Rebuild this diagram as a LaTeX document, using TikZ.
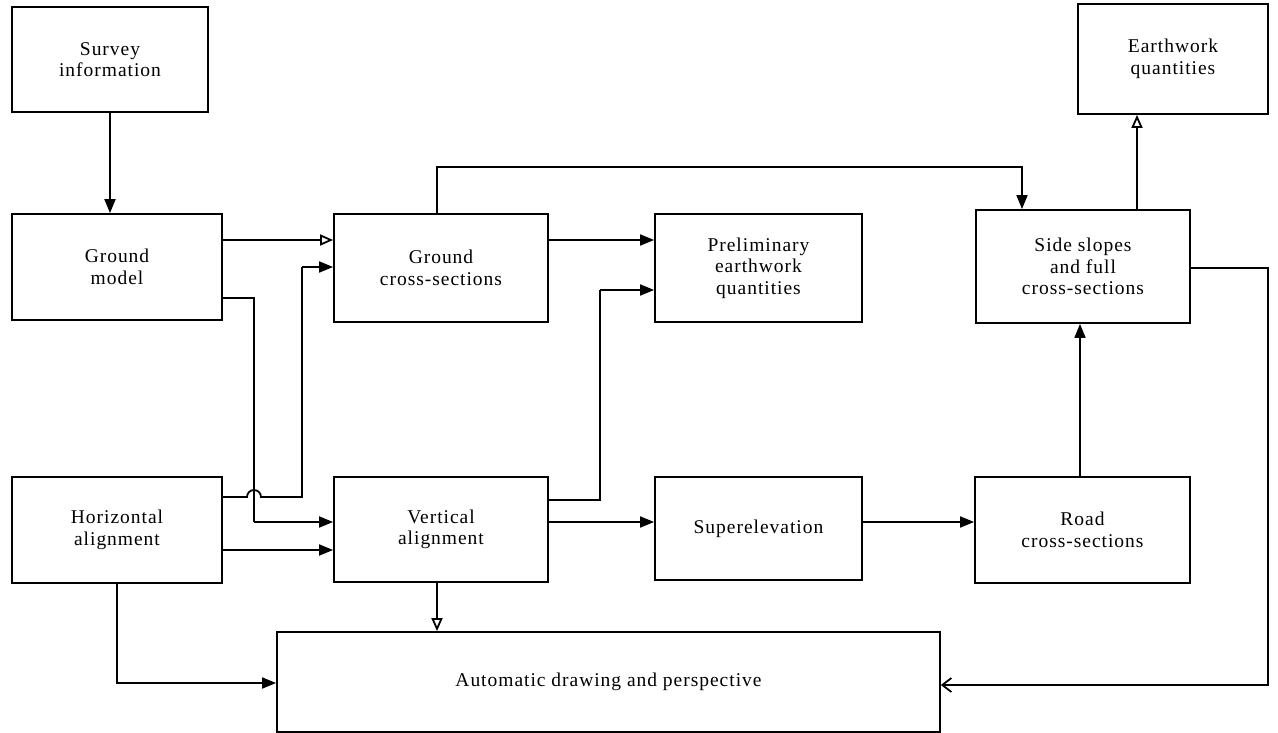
\documentclass[tikz,border=0pt]{standalone}
\usepackage{fontspec}
\setmainfont{Liberation Serif}
\usetikzlibrary{arrows.meta}
\begin{document}
\begin{tikzpicture}[x=1pt,y=-1pt,
  box/.style={draw,line width=1.8pt,inner sep=0pt,align=center,font=\fontsize{19.5}{21.5}\selectfont\addfontfeature{LetterSpace=5}},
  ln/.style={line width=1.8pt},
  fa/.style={ln,-{Triangle[length=14pt,width=11pt]}},
  oa/.style={ln,-{Triangle[open,length=13pt,width=11pt]}},
  va/.style={ln,-{Straight Barb[length=9pt,width=14pt]}}]
\useasboundingbox (0,0) rectangle (1278,733);
\fill[white] (0,0) rectangle (1278,733);
% boxes
\node[box,minimum width=196pt,minimum height=105pt] (survey) at (110,59.5) {Survey\\information};
\node[box,minimum width=190pt,minimum height=110pt] (earth) at (1173,59) {Earthwork\\quantities};
\node[box,minimum width=210pt,minimum height=106pt] (gm) at (117,267) {Ground\\model};
\node[box,minimum width=214pt,minimum height=108pt] (gcs) at (441,268) {Ground\\cross-sections};
\node[box,minimum width=207pt,minimum height=108pt] (pre) at (758.5,268) {Preliminary\\earthwork\\quantities};
\node[box,minimum width=214pt,minimum height=113pt] (side) at (1083,266.5) {Side slopes\\and full\\cross-sections};
\node[box,minimum width=210pt,minimum height=106pt] (ha) at (117,530) {Horizontal\\alignment};
\node[box,minimum width=214pt,minimum height=105pt] (va) at (441,529.5) {Vertical\\alignment};
\node[box,minimum width=207pt,minimum height=103pt] (sup) at (758.5,528.5) {Superelevation};
\node[box,minimum width=215pt,minimum height=106pt] (road) at (1082.5,530) {Road\\cross-sections};
\node[box,minimum width=663pt,minimum height=100pt] (auto) at (608.5,682) {Automatic drawing and perspective};
% helper coordinates
\coordinate (g1) at (302,267);
\coordinate (g2) at (254,298);
\coordinate (v1) at (600,500);
\coordinate (top1) at (437,167);
\coordinate (top2) at (1022,167);
\coordinate (r1) at (1268,268);
\coordinate (r2) at (1268,685);
\coordinate (h1) at (117,683);
% connectors
\draw[fa] (survey.south) -- (survey.south |- gm.north);
\draw[oa] (gm.east |- 0,240) -- (gcs.west |- 0,240);
\draw[ln] (gm.east |- 0,298) -- (g2) -- (254,522);
\draw[fa] (254,522) -- (va.west |- 0,522);
\draw[ln] (ha.east |- 0,497) -- (247,497) arc[start angle=180,end angle=0,radius=7pt] -- (302,497) -- (g1);
\draw[fa] (g1) -- (gcs.west |- 0,267);
\draw[fa] (ha.east |- 0,550) -- (va.west |- 0,550);
\draw[fa] (gcs.east |- 0,240) -- (pre.west |- 0,240);
\draw[ln] (va.east |- 0,500) -- (v1) -- (600,290);
\draw[fa] (600,290) -- (pre.west |- 0,290);
\draw[fa] (va.east |- 0,522) -- (sup.west |- 0,522);
\draw[fa] (sup.east |- 0,522) -- (road.west |- 0,522);
\draw[fa] (road.north -| 1080,0) -- (side.south -| 1080,0);
\draw[oa] (side.north -| 1137,0) -- (earth.south -| 1137,0);
\draw[fa] (gcs.north -| top1) -- (top1) -- (top2) -- (side.north -| top2);
\draw[oa] (va.south -| 437,0) -- (auto.north -| 437,0);
\draw[fa] (ha.south -| h1) -- (h1) -- (auto.west |- h1);
\draw[va] (side.east |- r1) -- (r1) -- (r2) -- (auto.east |- r2);
\end{tikzpicture}
\end{document}
